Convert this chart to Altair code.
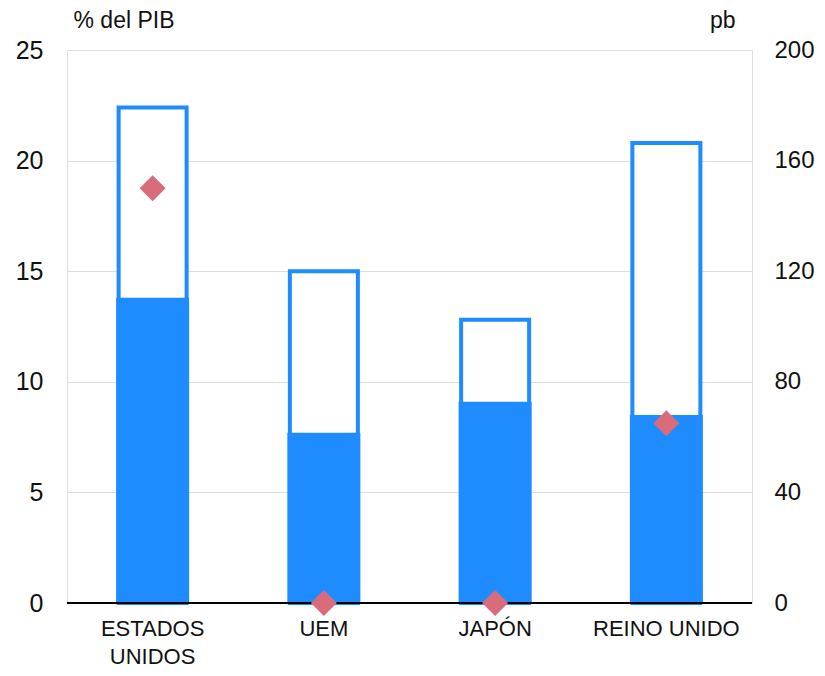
import altair as alt
import pandas as pd

paises = ["ESTADOS UNIDOS", "UEM", "JAPÓN", "REINO UNIDO"]
relleno = [13.8, 7.7, 9.1, 8.5]
total = [22.4, 15.0, 12.8, 20.8]
pb = [150, 0, 0, 65]

df = pd.DataFrame({"pais": paises, "relleno": relleno, "total": total, "pb": pb})

FONT = "Liberation Sans"
BLUE = "#1E8CFF"
PINK = "#D96C7B"

xenc = alt.X(
    "pais:N",
    sort=paises,
    title=None,
    scale=alt.Scale(paddingInner=0.58, paddingOuter=0.29),
    axis=alt.Axis(
        labelFontSize=22,
        labelFont=FONT,
        labelColor="#111111",
        labelPadding=15,
        labelAngle=0,
        labelLineHeight=28,
        labelExpr="datum.label == 'ESTADOS UNIDOS' ? ['ESTADOS', 'UNIDOS'] : datum.label",
        ticks=False,
        domain=False,
        grid=False,
    ),
)

left_scale = alt.Scale(domain=[0, 25], nice=False, zero=True)

outline = alt.Chart(df).mark_bar(
    size=68, fill="white", stroke=BLUE, strokeWidth=4, strokeJoin="miter"
).encode(
    x=xenc,
    y=alt.Y(
        "total:Q",
        scale=left_scale,
        axis=alt.Axis(
            values=[0, 5, 10, 15, 20, 25],
            orient="left",
            grid=True,
            gridColor="#dddddd",
            gridWidth=1,
            domain=False,
            ticks=False,
            labelFontSize=25,
            labelFont=FONT,
            labelColor="#111111",
            labelPadding=24,
            title="% del PIB",
            titleFont=FONT,
            titleFontSize=23,
            titleFontWeight="normal",
            titleColor="#111111",
            titleAngle=0,
            titleAlign="left",
            titleBaseline="alphabetic",
            titleX=6,
            titleY=-23,
        ),
    ),
)

filled = alt.Chart(df).mark_bar(size=73, color=BLUE).encode(
    x=xenc,
    y=alt.Y("relleno:Q", scale=left_scale, axis=None),
)

zero = alt.Chart(pd.DataFrame({"v": [0]})).mark_rule(color="black", strokeWidth=2).encode(
    y=alt.Y("v:Q", scale=left_scale, axis=None)
)

diamonds = alt.Chart(df).mark_point(
    shape="diamond", size=676, filled=True, color=PINK, opacity=1
).encode(
    x=xenc,
    y=alt.Y(
        "pb:Q",
        scale=alt.Scale(domain=[0, 200], nice=False),
        axis=alt.Axis(
            values=[0, 40, 80, 120, 160, 200],
            orient="right",
            grid=False,
            domain=False,
            ticks=False,
            labelFontSize=24,
            labelFont=FONT,
            labelColor="#111111",
            labelPadding=22,
            title="pb",
            titleFont=FONT,
            titleFontSize=23,
            titleFontWeight="normal",
            titleColor="#111111",
            titleAngle=0,
            titleAlign="right",
            titleBaseline="alphabetic",
            titleX=-17,
            titleY=-23,
        ),
    ),
)

chart = (
    alt.layer(outline, filled, zero, diamonds)
    .resolve_scale(y="independent")
    .properties(
        width=685,
        height=553,
        autosize=alt.AutoSizeParams(type="none"),
        padding={"left": 59, "top": 42, "right": 65, "bottom": 65},
    )
    .configure_view(stroke="#dddddd", strokeWidth=1)
)

chart.save("out.html", embed_options={"renderer": "svg", "actions": False})
